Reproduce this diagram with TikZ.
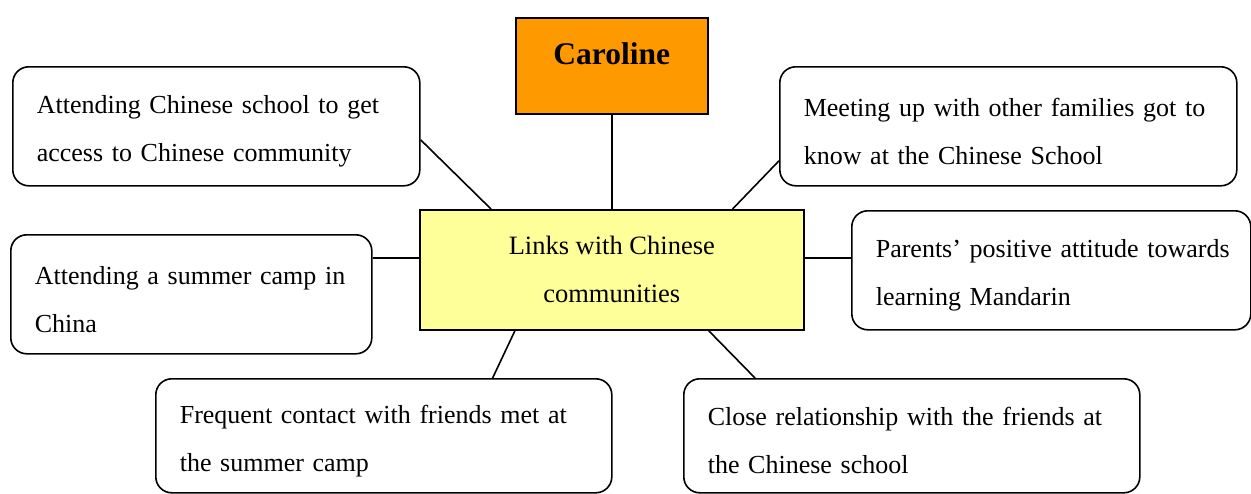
\documentclass[tikz,border=0pt]{standalone}
\usepackage{fontspec}
\setmainfont{Liberation Serif}
\definecolor{carorange}{HTML}{FF9900}
\definecolor{hubyellow}{HTML}{FFFF99}
% one unbreakable line of a box text
\newcommand{\boxline}[1]{\mbox{#1}}
\begin{document}
\begin{tikzpicture}[x=1pt,y=-1pt,
  line width=1.6pt,
  every node/.style={font=\fontsize{26}{48}\selectfont, inner sep=0pt},
  idea/.style={draw, rounded corners=16pt, fill=white, anchor=north west,
               align=left, inner xsep=24pt,
               execute at begin node={\rule{0pt}{28pt}}},
  hubbox/.style={draw, fill=hubyellow, anchor=north west, align=center,
                 font=\fontsize{26.5}{48}\selectfont},
  namebox/.style={draw, fill=carorange, anchor=north west},
  link/.style={draw, line width=1.6pt}]
\useasboundingbox (0,0) rectangle (1251,493);
\clip (0,0) rectangle (1251,493);

% central theme and name
\node[namebox, minimum width=192pt, minimum height=96pt] (car) at (515,17) {};
\node[font=\fontsize{31.5}{36}\selectfont\bfseries] (carname) at ([yshift=12pt]car.center) {Caroline};
\node[hubbox, minimum width=384pt, minimum height=120pt] (hub) at (419,209)
  {Links with Chinese\\communities};

% surrounding factors
\node[idea, minimum width=407pt, minimum height=119pt, text width=359pt] (tl) at (12,66)
  {\boxline{Attending Chinese school to get}\\\boxline{access to Chinese community}};
\node[idea, minimum width=457pt, minimum height=119pt, text width=409pt] (tr) at (779,66)
  {\boxline{Meeting up with other families got to}\\\boxline{know at the Chinese School}};
\node[idea, minimum width=361pt, minimum height=119pt, text width=313pt] (lm) at (10,234)
  {\boxline{Attending a summer camp in}\\\boxline{China}};
\node[idea, minimum width=399pt, minimum height=119pt, text width=351pt] (rm) at (851,210)
  {\boxline{Parents’ positive attitude towards}\\\boxline{learning Mandarin}};
\node[idea, minimum width=456pt, minimum height=114pt, text width=408pt] (bl) at (155,378)
  {\boxline{Frequent contact with friends met at}\\\boxline{the summer camp}};
\node[idea, minimum width=456pt, minimum height=114pt, text width=408pt] (br) at (683,378)
  {\boxline{Close relationship with the friends at}\\\boxline{the Chinese school}};

% connectors
\path[link] (car.south) -- (hub.north);
\path[link] ([yshift=-13.5pt]tl.east) -- ([xshift=72pt]hub.north west);
\path[link] ([yshift=-34.5pt]tr.west) -- ([xshift=-72pt]hub.north east);
\path[link] ([yshift=36.5pt]lm.east) -- ([yshift=12pt]hub.west);
\path[link] ([yshift=12pt]hub.east) -- ([yshift=12.5pt]rm.west);
\path[link] ([xshift=96pt]hub.south west) -- ([xshift=-120pt]bl.north east);
\path[link] ([xshift=-96pt]hub.south east) -- ([xshift=72pt]br.north west);
\end{tikzpicture}
\end{document}
